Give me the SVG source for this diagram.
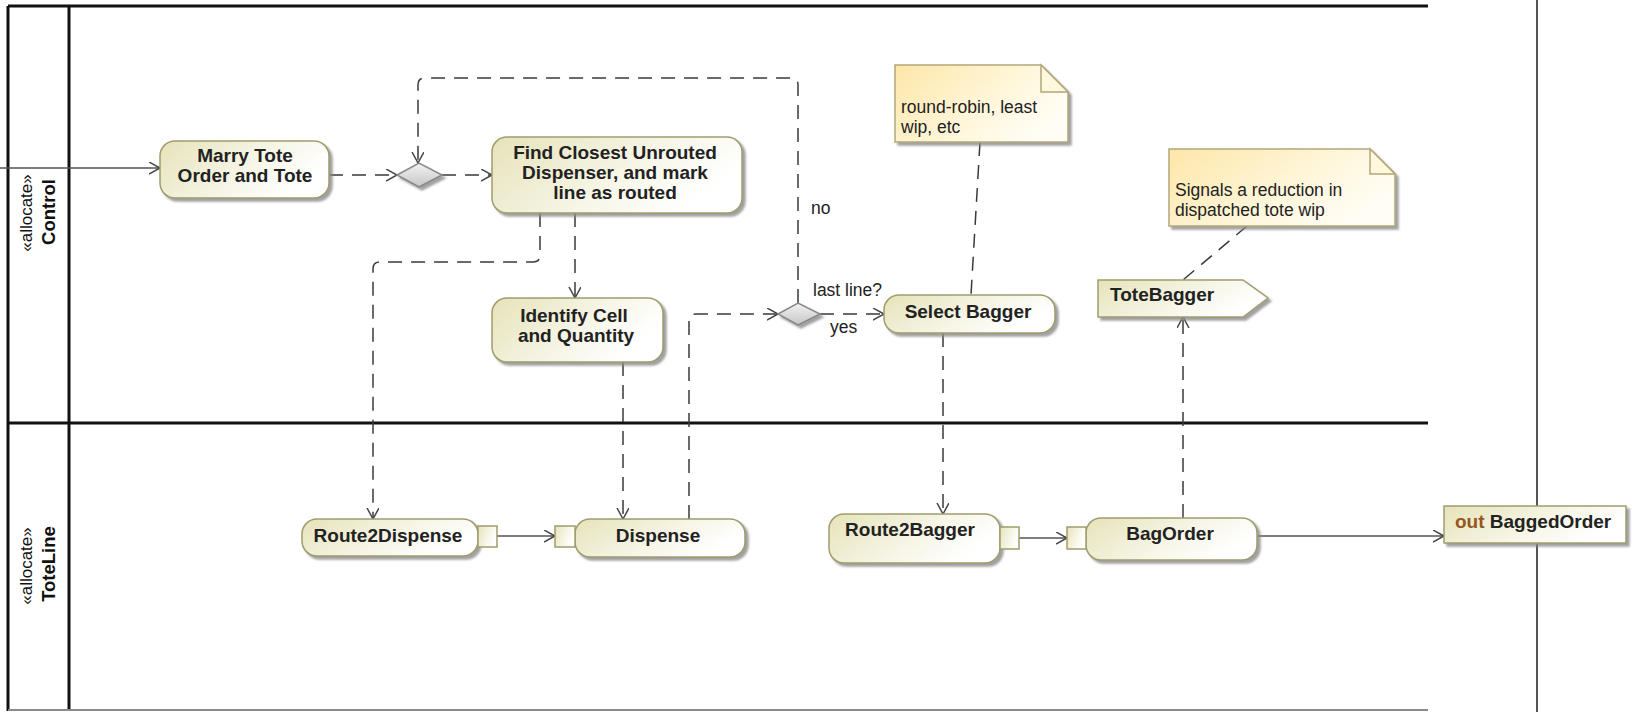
<svg xmlns="http://www.w3.org/2000/svg" width="1645" height="712" viewBox="0 0 1645 712">
<style>
.frame{stroke:#111;stroke-width:3;fill:none}
.node{fill:url(#gNode);stroke:#a09c6e;stroke-width:1.5;filter:url(#sh)}
.pin{fill:url(#gNode);stroke:#a09c6e;stroke-width:1.5}
.note{fill:url(#gNote);stroke:#b3a67a;stroke-width:1.5;filter:url(#sh)}
.fold{fill:#fff8dc;stroke:#b3a67a;stroke-width:1.5}
.dia{fill:url(#gDia);stroke:#888;stroke-width:1.5;filter:url(#sh)}
.t{font-family:"Liberation Sans",Arial,sans-serif;font-weight:bold;font-size:19px;fill:#222;text-anchor:middle}
.r{font-family:"Liberation Sans",Arial,sans-serif;font-size:17.5px;fill:#222}
.lane{font-family:"Liberation Sans",Arial,sans-serif;text-anchor:middle;fill:#111}
.dash{fill:none;stroke:#3a3a3a;stroke-width:1.5;stroke-dasharray:14 9}
.solid{fill:none;stroke:#555;stroke-width:1.5}
.arr{marker-end:url(#ah)}
</style>
<defs>
<linearGradient id="gNode" x1="0" y1="0" x2="1" y2="0.4">
<stop offset="0" stop-color="#e6e3b9"/>
<stop offset="0.6" stop-color="#f6f5e6"/>
<stop offset="1" stop-color="#ffffff"/>
</linearGradient>
<linearGradient id="gNote" x1="0" y1="0" x2="1" y2="0.5">
<stop offset="0" stop-color="#fde6a8"/>
<stop offset="0.6" stop-color="#fff6d8"/>
<stop offset="1" stop-color="#fffdf4"/>
</linearGradient>
<linearGradient id="gDia" x1="0" y1="0" x2="0" y2="1">
<stop offset="0" stop-color="#f2f2f2"/>
<stop offset="1" stop-color="#c6c6c6"/>
</linearGradient>
<filter id="sh" x="-10%" y="-10%" width="130%" height="140%">
<feDropShadow dx="3" dy="3" stdDeviation="1.2" flood-color="#8a8a8a" flood-opacity="0.8"/>
</filter>
<marker id="ah" markerUnits="userSpaceOnUse" markerWidth="14" markerHeight="14" refX="11" refY="6" orient="auto">
<path d="M0,0 L11,6 L0,12" fill="none" stroke="#444" stroke-width="1.5"/>
</marker>
</defs>

<g id="swimlanes">
<path class="frame" d="M8,6 H1428 M8,6 V711 M69,6 V711 M8,423 H1428"/>
<path d="M8,710 H1428" stroke="#8a8a8a" stroke-width="2" fill="none"/>
<path d="M1537,0 V712" stroke="#555" stroke-width="2" fill="none"/>
<text class="lane" font-size="17" transform="translate(32,213) rotate(-90)">«allocate»</text>
<text class="lane" font-size="18.5" font-weight="bold" transform="translate(55,212) rotate(-90)">Control</text>
<text class="lane" font-size="17" transform="translate(32,566) rotate(-90)">«allocate»</text>
<text class="lane" font-size="18.5" font-weight="bold" transform="translate(55,564) rotate(-90)">ToteLine</text>
</g>

<g id="connectors">
<path class="solid arr" d="M0,168 H160"/>
<path class="dash arr" d="M329,175 H397"/>
<path class="dash arr" d="M442,175 H492"/>
<path class="dash arr" d="M798,303 V85 Q798,78 791,78 H425 Q418,78 418,85 V163"/>
<path class="dash arr" d="M575,213 V298"/>
<path class="dash arr" d="M540,213 V255 Q540,262 533,262 H380 Q373,262 373,269 V519"/>
<path class="dash arr" d="M623,362 V519"/>
<path class="dash arr" d="M689,519 V321 Q689,314 696,314 H778"/>
<path class="dash arr" d="M820,314 H884"/>
<path class="solid arr" d="M497,536 H555"/>
<path class="dash arr" d="M943,333 V514"/>
<path class="solid arr" d="M1019,538 H1067"/>
<path class="dash arr" d="M1183,518 V317"/>
<path class="solid arr" d="M1257,536 H1444"/>
<path class="dash" d="M980,142 L971,295"/>
<path class="dash" d="M1247,226 L1183,280"/>
<text class="r" x="811" y="214">no</text>
<text class="r" x="813" y="296">last line?</text>
<text class="r" x="830" y="333">yes</text>
</g>

<g id="marry">
<rect class="node" x="160" y="141" width="169" height="57" rx="15"/>
<text class="t" x="245" y="162">Marry Tote</text>
<text class="t" x="245" y="182">Order and Tote</text>
</g>

<g id="merge">
<polygon class="dia" points="397,175 419,163 442,175 419,187"/>
</g>

<g id="findClosest">
<rect class="node" x="492" y="137" width="250" height="76" rx="15"/>
<text class="t" x="615" y="159">Find Closest Unrouted</text>
<text class="t" x="615" y="179">Dispenser, and mark</text>
<text class="t" x="615" y="199">line as routed</text>
</g>

<g id="identify">
<rect class="node" x="492" y="298" width="171" height="64" rx="15"/>
<text class="t" x="574" y="322">Identify Cell</text>
<text class="t" x="576" y="342">and Quantity</text>
</g>

<g id="decision">
<polygon class="dia" points="778,314 798,303 820,314 798,325"/>
</g>

<g id="selectBagger">
<rect class="node" x="884" y="295" width="171" height="38" rx="15"/>
<text class="t" x="968" y="318">Select Bagger</text>
</g>

<g id="note1">
<path class="note" d="M895,65 H1041 L1068,92 V142 H895 Z"/>
<path class="fold" d="M1041,65 V92 H1068 Z"/>
<text class="r" x="901" y="113" font-size="18">round-robin, least</text>
<text class="r" x="901" y="133" font-size="18">wip, etc</text>
</g>

<g id="note2">
<path class="note" d="M1169,149 H1370 L1395,174 V226 H1169 Z"/>
<path class="fold" d="M1370,149 V174 H1395 Z"/>
<text class="r" x="1175" y="196" font-size="18">Signals a reduction in</text>
<text class="r" x="1175" y="216" font-size="18">dispatched tote wip</text>
</g>

<g id="toteBagger">
<polygon class="node" points="1098,280 1243,280 1268,298 1243,317 1098,317"/>
<text class="t" x="1110" y="301" style="text-anchor:start">ToteBagger</text>
</g>

<g id="route2Dispense">
<rect class="node" x="302" y="519" width="176" height="37" rx="15"/>
<rect class="pin" x="478" y="526" width="19" height="21"/>
<text class="t" x="388" y="542">Route2Dispense</text>
</g>

<g id="dispense">
<rect class="node" x="575" y="519" width="170" height="38" rx="15"/>
<rect class="pin" x="555" y="526" width="20" height="21"/>
<text class="t" x="658" y="542">Dispense</text>
</g>

<g id="route2Bagger">
<rect class="node" x="829" y="514" width="171" height="49" rx="15"/>
<rect class="pin" x="1000" y="527" width="19" height="22"/>
<text class="t" x="910" y="536">Route2Bagger</text>
</g>

<g id="bagOrder">
<rect class="node" x="1086" y="518" width="171" height="42" rx="15"/>
<rect class="pin" x="1067" y="527" width="19" height="22"/>
<text class="t" x="1170" y="540">BagOrder</text>
</g>

<g id="baggedOrder">
<rect class="node" x="1444" y="506" width="182" height="37"/>
<text class="t" x="1455" y="528" style="text-anchor:start"><tspan fill="#94561c">out</tspan> BaggedOrder</text>
</g>
</svg>
